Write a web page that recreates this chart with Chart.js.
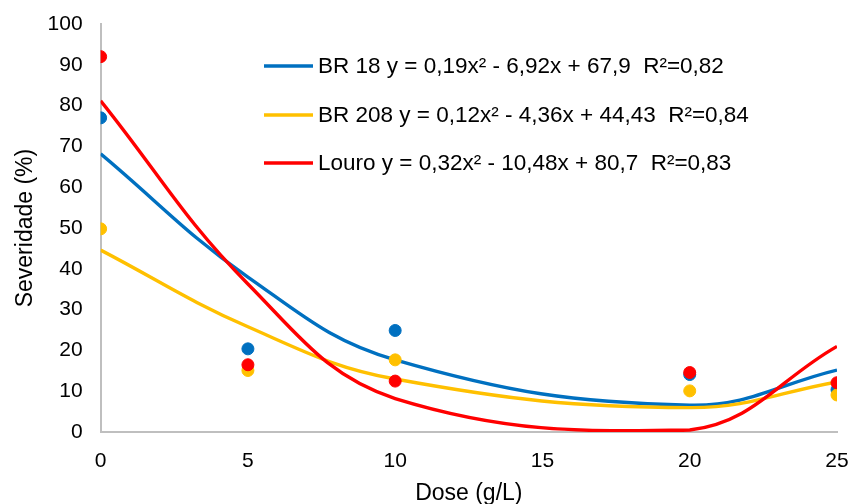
<!DOCTYPE html>
<html>
<head>
<meta charset="utf-8">
<script src="https://cdn.jsdelivr.net/npm/chart.js@4"></script>
<style>
    html, body { margin: 0; padding: 0; background: #fff; }
    #wrap { width: 852px; height: 504px; }
</style>
</head>
<body>
<div id="wrap"><canvas id="sevChart" width="852" height="504"></canvas></div>
<script>
// doses (g/L)
const doses = [0, 5, 10, 20, 25];

// observed severity (%)
const br18Obs = [77, 20.4, 24.9, 14.1, 10.4];
const br208Obs = [49.8, 15.1, 17.7, 10.1, 9.1];
const louroObs = [92, 16.5, 12.5, 14.6, 12.1];

// fitted curve values at each dose
const br18Fit = [68.2, 38, 17.7, 6.6, 15.2];
const br208Fit = [44.6, 25.8, 13, 6, 12.3];
const louroFit = [81.2, 36.3, 8.2, 0.5, 21];

const seriesLabels = [
    'BR 18 y = 0,19x² - 6,92x + 67,9  R²=0,82',
    'BR 208 y = 0,12x² - 4,36x + 44,43  R²=0,84',
    'Louro y = 0,32x² - 10,48x + 80,7  R²=0,83'
];
const colors = ['#0070C0', '#FFC000', '#FF0000'];

const yTicks = [0, 10, 20, 30, 40, 50, 60, 70, 80, 90, 100];
const xTicks = [0, 5, 10, 15, 20, 25];

const FONT = '"Liberation Sans", Arial, sans-serif';

function pts(ys) {
    return doses.map((d, i) => ({ x: d, y: ys[i] }));
}

function lineSet(label, ys, color, order) {
    return {
        type: 'line', label: label, data: pts(ys),
        borderColor: color, borderWidth: 3.4, pointRadius: 0,
        tension: 0.4, fill: false, order: order, isFit: true
    };
}

function dotSet(ys, color, order) {
    return {
        type: 'scatter', label: '', data: pts(ys),
        backgroundColor: color, borderColor: color,
        pointRadius: 6, pointHoverRadius: 6, order: order
    };
}

// legend sits inside the plot, drawn by hand
const fitLegend = {
    id: 'fitLegend',
    afterDraw(chart) {
        const c = chart.ctx;
        const rows = [66, 115, 163];
        c.save();
        c.font = '22.5px ' + FONT;
        c.textBaseline = 'middle';
        chart.data.datasets.filter(ds => ds.isFit).forEach((ds, i) => {
            c.strokeStyle = ds.borderColor;
            c.lineWidth = 3.4;
            c.beginPath();
            c.moveTo(264, rows[i]);
            c.lineTo(313, rows[i]);
            c.stroke();
            c.fillStyle = '#000';
            c.fillText(ds.label, 318, rows[i] + 1);
        });
        c.restore();
    }
};

const ctx = document.getElementById('sevChart').getContext('2d');
const chart = new Chart(ctx, {
    data: {
        datasets: [
            lineSet(seriesLabels[0], br18Fit, colors[0], 5),
            lineSet(seriesLabels[1], br208Fit, colors[1], 4),
            lineSet(seriesLabels[2], louroFit, colors[2], 3),
            dotSet(br18Obs, colors[0], 2),
            dotSet(br208Obs, colors[1], 1),
            dotSet(louroObs, colors[2], 0)
        ]
    },
    options: {
        responsive: false,
        animation: false,
        layout: { padding: { top: 0, right: 0, left: 0, bottom: -3 } },
        plugins: { legend: { display: false }, tooltip: { enabled: false } },
        scales: {
            x: {
                type: 'linear', min: 0, max: 25,
                afterBuildTicks: axis => { axis.ticks = xTicks.map(v => ({ value: v })); },
                afterFit: axis => { axis.paddingRight = 15; },
                grid: { display: false, drawTicks: false },
                border: { display: true, color: '#BFBFBF', width: 2 },
                ticks: { color: '#000', padding: 17, font: { size: 21, family: FONT } },
                title: {
                    display: true, text: 'Dose (g/L)', color: '#000',
                    font: { size: 23, family: FONT, lineHeight: 0.9 }, padding: { top: -8, bottom: 3 }
                }
            },
            y: {
                min: 0, max: 100,
                afterBuildTicks: axis => { axis.ticks = yTicks.map(v => ({ value: v })); },
                afterFit: axis => { axis.paddingTop = 24; },
                grid: { display: false, drawTicks: false },
                border: { display: true, color: '#BFBFBF', width: 2 },
                ticks: { color: '#000', padding: 18, font: { size: 21, family: FONT } },
                title: {
                    display: true, text: 'Severidade (%)', color: '#000',
                    font: { size: 23, family: FONT }, padding: { top: 12, bottom: -10 }
                }
            }
        }
    },
    plugins: [fitLegend]
});
</script>
</body>
</html>
